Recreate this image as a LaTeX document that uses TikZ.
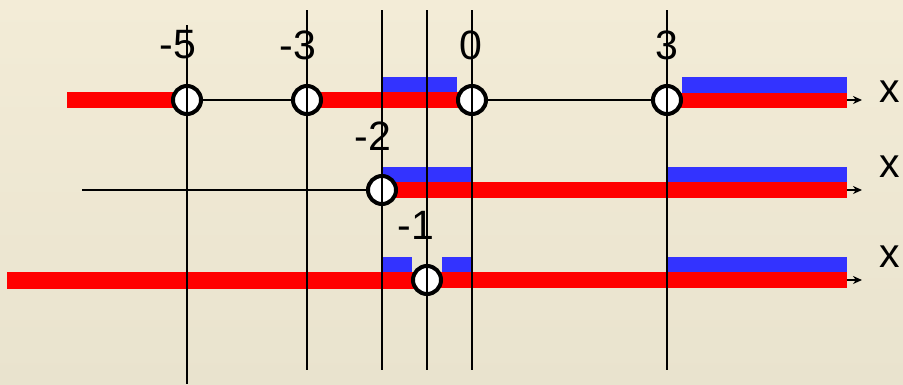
\documentclass[tikz,border=0pt]{standalone}
\usepackage{fontspec}
\setmainfont{Liberation Sans}
\usetikzlibrary{arrows.meta}
\definecolor{bgtop}{HTML}{F3ECD7}
\definecolor{bgbot}{HTML}{E9E3CE}
\definecolor{barred}{HTML}{FF0000}
\definecolor{barblue}{HTML}{3333FF}
\begin{document}
\begin{tikzpicture}[x=1pt,y=-1pt,
 ptc/.style={circle,draw=black,line width=4pt,fill=white,minimum size=28pt,inner sep=0pt},
 redbar/.style={fill=barred},
 bluebar/.style={fill=barblue},
 axisline/.style={line width=1.6pt},
 axisarrow/.style={line width=1.6pt,-{Stealth[length=9pt,width=8pt]}},
 vline/.style={line width=2.3pt},
 lab/.style={font=\fontsize{41}{49}\selectfont,inner sep=0pt}]
\useasboundingbox (0,0) rectangle (903,384);
\shade[top color=bgtop,bottom color=bgbot] (0,0) rectangle (903,384);
% bars row 1
\fill[redbar] (67,92) rectangle (187,108);
\fill[redbar] (307,92) rectangle (472,108);
\fill[bluebar] (382,77) rectangle (457,92);
\fill[redbar] (667,93) rectangle (847,108);
\fill[bluebar] (682,77) rectangle (847,93);
% bars row 2
\fill[redbar] (382,182) rectangle (847,198);
\fill[bluebar] (382,167) rectangle (472,182);
\fill[bluebar] (667,167) rectangle (847,182);
% bars row 3
\fill[redbar] (7,272) rectangle (427,289);
\fill[bluebar] (382,257) rectangle (412,272);
\fill[bluebar] (442,257) rectangle (472,272);
\fill[redbar] (427,272) rectangle (847,288);
\fill[bluebar] (667,257) rectangle (847,272);
% coordinates
\coordinate (a1) at (847,100);
\coordinate (e1) at (862,100);
\coordinate (s2) at (82,190);
\coordinate (a2) at (847,190);
\coordinate (e2) at (862,190);
\coordinate (a3) at (847,280);
\coordinate (e3) at (862,280);
% axes
\draw[axisline] (187,100) -- (307,100);
\draw[axisline] (472,100) -- (667,100);
\draw[axisarrow] (a1) -- (e1);
\draw[axisline] (s2) -- (382,190);
\draw[axisarrow] (a2) -- (e2);
\draw[axisarrow] (a3) -- (e3);
% points
\node[ptc] (cm5) at (187,100) {};
\node[ptc] (cm3) at (307,100) {};
\node[ptc] (c0) at (472,100) {};
\node[ptc] (c3) at (667,100) {};
\node[ptc] (cm2) at (382,190) {};
\node[ptc] (cm1) at (427,280) {};
% vertical lines
\draw[vline] (187,25) -- (187,384);
\draw[vline] (307,10) -- (307,370);
\draw[vline] (382,10) -- (382,370);
\draw[vline] (427,10) -- (427,370);
\draw[vline] (472,10) -- (472,370);
\draw[vline] (667,10) -- (667,370);
% labels
\node[lab] (lm5) at (178,45) {-5};
\node[lab] (lm3) at (298,45) {-3};
\node[lab] (l0) at (471,45) {0};
\node[lab] (l3) at (667,45) {3};
\node[lab] (lm2) at (373,136) {-2};
\node[lab] (lm1) at (416,225) {-1};
\node[lab] (x1) at (890,92) {x};
\node[lab] (x2) at (890,167) {x};
\node[lab] (x3) at (890,257) {x};
\end{tikzpicture}
\end{document}
